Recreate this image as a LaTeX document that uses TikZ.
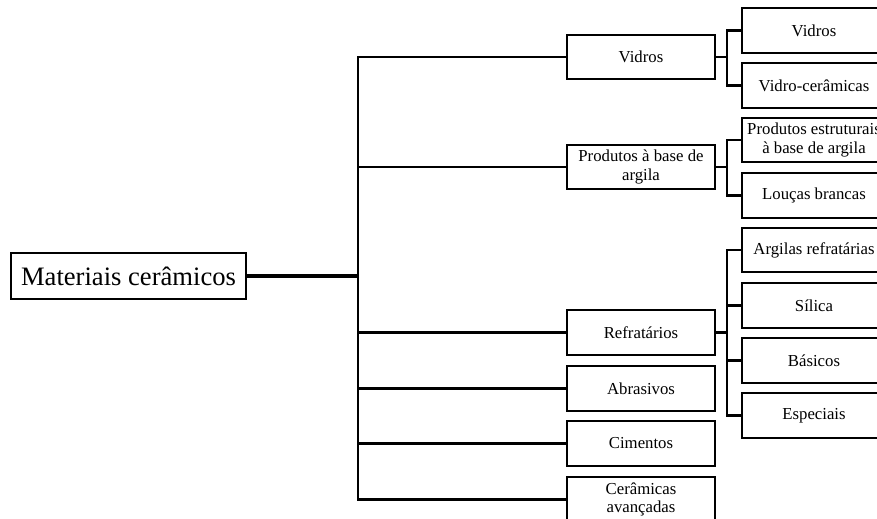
\documentclass[tikz,border=0pt]{standalone}
\usepackage{fontspec}
\setmainfont{Liberation Serif}
\begin{document}
\begin{tikzpicture}[x=0.03cm,y=-0.03cm,
  box/.style={draw,line width=1.8pt,minimum width=4.44cm,minimum height=1.34cm,
    inner sep=0pt,align=center,font=\fontsize{14.3}{15.6}\selectfont},
  leaf/.style={box,minimum width=4.32cm},
  link/.style={line width=2pt,line cap=rect}]
 \useasboundingbox (0,0) rectangle (877,518);
 \clip (0,0) rectangle (877,518);
 % root
 \node[box,minimum width=7.05cm,minimum height=1.38cm,
   font=\fontsize{22.7}{24}\selectfont] (root) at (128.5,276) {Materiais cerâmicos};
 % first level
 \node[box] (vid) at (641,57) {Vidros};
 \node[box] (arg) at (641,167) {Produtos à base de\\argila};
 \node[box] (ref) at (641,332.5) {Refratários};
 \node[box] (abr) at (641,388.5) {Abrasivos};
 \node[box] (cim) at (641,443.5) {Cimentos};
 \node[box] (ava) at (641,499.5) {Cerâmicas\\avançadas};
 % second level
 \node[leaf] (vvid) at (814,30.5) {Vidros};
 \node[leaf] (vcer) at (814,85.5) {Vidro-cerâmicas};
 \node[leaf] (pest) at (814,140) {Produtos estruturais\\à base de argila};
 \node[leaf] (lou) at (814,195.5) {Louças brancas};
 \node[leaf] (aref) at (814,250) {Argilas refratárias};
 \node[leaf] (sil) at (814,305.5) {Sílica};
 \node[leaf] (bas) at (814,360.5) {Básicos};
 \node[leaf] (esp) at (814,415.5) {Especiais};
 % connectors
 \coordinate (tk) at (358,276);
 \coordinate (bk) at (727,0);
 \draw[link,line width=2.8pt,line cap=butt] (root) -- (tk);
 \draw[link] (tk |- vid) -- (tk |- ava);
 \foreach \n in {vid,arg,ref,abr,cim,ava}
   \draw[link] (tk |- \n) -- (\n);
 \foreach \p/\a/\b in {vid/vvid/vcer,arg/pest/lou,ref/aref/esp}
   \draw[link] (\p) -- (bk |- \p) (\a) -- (bk |- \a) -- (bk |- \b) -- (\b);
 \foreach \n in {sil,bas}
   \draw[link] (bk |- \n) -- (\n);
\end{tikzpicture}
\end{document}
